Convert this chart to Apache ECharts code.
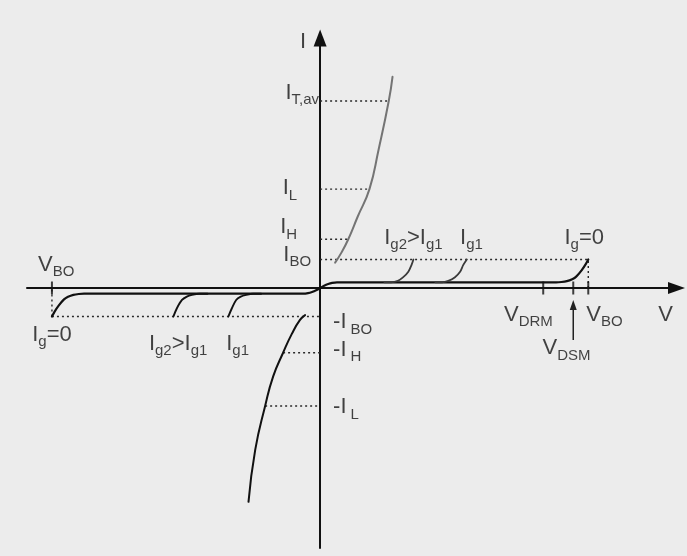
<!DOCTYPE html>
<html>
<head>
<meta charset="utf-8">
<script src="https://cdn.jsdelivr.net/npm/echarts@6/dist/echarts.min.js"></script>
<style>
  html, body { margin: 0; padding: 0; background: #ececec; }
  #chart { width: 687px; height: 556px; }
</style>
</head>
<body>
<div id="chart"></div>
<script>
// Thyristor / triac I-V characteristic, schematic units (V_BO = 100, I_BO = 1)

// Voltage markers on the V axis
const tickNames = ['V_BO', 'V_DRM', 'V_DSM', 'V_BO'];
const tickV = [-100, 83.2, 94.4, 100];

// Current levels on the forward side: I_BO, I_H, I_L, I_T,av
const fwdLevelNames = ['I_BO', 'I_H', 'I_L', 'I_T,av'];
const fwdLevelI = [1, 1.71, 3.47, 6.56];
const fwdLevelReach = [100, 10.5, 18.4, 25.6];
// Current levels on the reverse side: -I_BO, -I_H, -I_L
const revLevelNames = ['-I_BO', '-I_H', '-I_L'];
const revLevelI = [-1, -2.27, -4.14];
const revLevelReach = [-100, -13.8, -20.5];

// Forward blocking branch, Ig = 0
const fwdOffV = [0, 1.5, 3, 4.5, 6.3, 8, 20, 45, 70, 85, 88, 90, 92, 94, 95.5, 97.5, 99, 100];
const fwdOffI = [0, 0.08, 0.14, 0.18, 0.2, 0.2, 0.2, 0.2, 0.2, 0.2, 0.2, 0.21, 0.24, 0.31, 0.4, 0.62, 0.83, 1];
// Reverse blocking branch, Ig = 0
const revOffV = [-100, -99, -97.5, -95.5, -94, -92, -90, -88, -85, -70, -45, -20, -8, -6.3, -4.5, -3, -1.5, 0];
const revOffI = [-1, -0.83, -0.62, -0.4, -0.31, -0.24, -0.21, -0.2, -0.2, -0.2, -0.2, -0.2, -0.2, -0.2, -0.18, -0.14, -0.08, 0];

// Gate-triggered break-over, forward side (Ig2 > Ig1, then Ig1)
const fwdG2V = [24, 26.5, 29, 31, 32.9, 34.1, 34.8];
const fwdG2I = [0.2, 0.2, 0.25, 0.38, 0.57, 0.81, 1];
const fwdG1V = [43, 45.5, 47.8, 50.3, 52.2, 53.4, 54.7];
const fwdG1I = [0.2, 0.2, 0.25, 0.38, 0.57, 0.81, 1];
// Gate-triggered break-over, reverse side
const revG2V = [-54.7, -53.4, -51.5, -49.7, -47.8, -45, -42];
const revG2I = [-1, -0.71, -0.42, -0.3, -0.24, -0.2, -0.2];
const revG1V = [-34.2, -32.9, -31.3, -29.6, -27.6, -25, -22];
const revG1I = [-1, -0.71, -0.42, -0.3, -0.24, -0.2, -0.2];

// On-state (conducting) branches
const fwdOnV = [5.6, 8, 10.5, 14, 18.4, 21.8, 25.6, 27.0];
const fwdOnI = [0.89, 1.25, 1.71, 2.5, 3.47, 4.85, 6.56, 7.41];
const revOnV = [-26.7, -24.2, -20.5, -17.5, -13.8, -10.5, -7.5, -5.6];
const revOnI = [-7.5, -5.68, -4.14, -3.1, -2.27, -1.6, -1.12, -0.95];

// V_DSM pointer (from below the axis up towards the tick)
const dsmArrowI = [-1.82, -0.6];

// ---------------------------------------------------------------
const X_MIN = -109.3, X_MAX = 132.9, Y_MIN = -9.12, Y_MAX = 8.77;
const FONT = '"Liberation Sans", Arial, Helvetica, sans-serif';
const INK = '#151515';

const zip = (xs, ys) => xs.map((x, i) => [x, ys[i]]);
const sub = name => {
  // 'I_T,av' -> main glyph + subscript
  const k = name.indexOf('_');
  if (k < 0) return '{m|' + name + '}';
  const neg = name[0] === '-';
  return '{m|' + name.slice(0, k) + '}{' + (neg ? 'sg' : 's') + '|' + name.slice(k + 1) + '}';
};

function curve(name, xs, ys, color, width, smooth) {
  return {
    name, type: 'line', data: zip(xs, ys), showSymbol: false,
    smooth: smooth || 0.3, silent: true,
    lineStyle: { color, width, cap: 'round', join: 'round' }, z: 3
  };
}
function dotted(name, pts) {
  return {
    name, type: 'line', data: pts, showSymbol: false, silent: true,
    lineStyle: { color: '#2a2a2a', width: 1.4, type: [2, 3] }, z: 2
  };
}

const series = [];

// dotted guide lines to each current level
fwdLevelI.forEach((lv, i) => series.push(dotted(fwdLevelNames[i], [[0, lv], [fwdLevelReach[i], lv]])));
revLevelI.forEach((lv, i) => series.push(dotted(revLevelNames[i], [[revLevelReach[i], lv], [0, lv]])));
// vertical drops from the break-over points
series.push(dotted('fwd drop', [[tickV[3], 0], [tickV[3], fwdLevelI[0]]]));
series.push(dotted('rev drop', [[tickV[0], revLevelI[0]], [tickV[0], 0]]));

// characteristic curves
series.push(curve('forward blocking', fwdOffV, fwdOffI, '#111', 2.2));
series.push(curve('reverse blocking', revOffV, revOffI, '#111', 2.2));
series.push(curve('fwd Ig2', fwdG2V, fwdG2I, '#3a3a3a', 1.8));
series.push(curve('fwd Ig1', fwdG1V, fwdG1I, '#3a3a3a', 1.8));
series.push(curve('rev Ig2', revG2V, revG2I, '#111', 1.9));
series.push(curve('rev Ig1', revG1V, revG1I, '#111', 1.9));
series.push(curve('forward on-state', fwdOnV, fwdOnI, '#747474', 2, 0.5));
series.push(curve('reverse on-state', revOnV, revOnI, '#111', 2, 0.5));

// tick marks on the V axis
series.push({
  name: 'ticks', type: 'scatter', silent: true, z: 4,
  symbol: 'rect', symbolSize: [2, 13],
  itemStyle: { color: '#111' },
  data: tickV.map(v => [v, 0])
});

// V_DSM pointer
series.push({
  name: 'V_DSM pointer', type: 'line', silent: true, z: 4,
  showSymbol: true, showAllSymbol: true,
  lineStyle: { color: '#222', width: 1.5 },
  itemStyle: { color: '#222' },
  data: [
    { value: [tickV[2], dsmArrowI[0]], symbol: 'none' },
    { value: [tickV[2], dsmArrowI[1]], symbol: 'triangle', symbolSize: [7, 10] }
  ]
});

// text annotations, anchored to the values they name
const g2 = '{m|I}{s|g2}{m|>I}{s|g1}';
const g1 = '{m|I}{s|g1}';
const g0 = '{m|I}{s|g}{m|=0}';
const notes = [
  { text: '{m|I}', at: [0, Y_MAX], align: 'center', off: [-17, 4.5] },
  { text: '{m|V}', at: [X_MAX, 0], align: 'center', off: [-11, 27.5] },
  { text: sub(fwdLevelNames[3]), at: [0, fwdLevelI[3]], align: 'right', off: [-1, -7.5] },
  { text: sub(fwdLevelNames[2]), at: [0, fwdLevelI[2]], align: 'right', off: [-23, 0] },
  { text: sub(fwdLevelNames[1]), at: [0, fwdLevelI[1]], align: 'right', off: [-23, -11.3] },
  { text: sub(fwdLevelNames[0]), at: [0, fwdLevelI[0]], align: 'right', off: [-9, -4] },
  { text: sub(revLevelNames[0]), at: [0, revLevelI[0]], align: 'left', off: [13, 6.5] },
  { text: sub(revLevelNames[1]), at: [0, revLevelI[1]], align: 'left', off: [13, -2.2] },
  { text: sub(revLevelNames[2]), at: [0, revLevelI[2]], align: 'left', off: [13, 2] },
  { text: g2, at: [fwdG2V[6], fwdG2I[6]], align: 'center', off: [0, -21] },
  { text: g1, at: [fwdG1V[6], fwdG1I[6]], align: 'center', off: [4.7, -21] },
  { text: g0, at: [tickV[3], fwdLevelI[0]], align: 'center', off: [-4, -21] },
  { text: g2, at: [revG2V[0], revG2I[0]], align: 'center', off: [4.7, 28] },
  { text: g1, at: [revG1V[0], revG1I[0]], align: 'center', off: [9.2, 28] },
  { text: g0, at: [tickV[0], revLevelI[0]], align: 'center', off: [0, 19] },
  { text: sub(tickNames[0]), at: [tickV[0], 0], align: 'center', off: [4.3, -22.5] },
  { text: sub(tickNames[1]), at: [tickV[1], 0], align: 'center', off: [-14.8, 27.5] },
  { text: sub(tickNames[2]), at: [tickV[2], 0], align: 'center', off: [-6.8, 61] },
  { text: sub(tickNames[3]), at: [tickV[3], 0], align: 'center', off: [16.2, 27.5] }
];

const rich = {
  m: { fontSize: 22, lineHeight: 24, fontFamily: FONT, color: INK, verticalAlign: 'top' },
  s: { fontSize: 15, lineHeight: 14, fontFamily: FONT, color: INK, verticalAlign: 'top', padding: [11, 0, 0, 0] },
  sg: { fontSize: 15, lineHeight: 15, fontFamily: FONT, color: INK, verticalAlign: 'top', padding: [11, 0, 0, 4] }
};

series.push({
  name: 'annotations', type: 'scatter', silent: true, clip: false, z: 6,
  symbolSize: 1, itemStyle: { color: 'rgba(0,0,0,0)' },
  label: {
    show: true, position: 'inside', verticalAlign: 'middle',
    color: INK, textBorderWidth: 0, rich
  },
  data: notes.map(n => ({
    value: n.at,
    label: { formatter: n.text, align: n.align, offset: n.off }
  }))
});

const chart = echarts.init(document.getElementById('chart'), null, { renderer: 'canvas' });
chart.setOption({
  backgroundColor: '#ececec',
  animation: false,
  grid: { left: 27, top: 38, width: 649.5, height: 510, containLabel: false },
  xAxis: {
    type: 'value', min: X_MIN, max: X_MAX,
    axisLine: { onZero: true, symbol: ['none', 'triangle'], symbolSize: [12, 17],
      lineStyle: { color: '#111', width: 2 } },
    axisTick: { show: false }, axisLabel: { show: false }, splitLine: { show: false }
  },
  yAxis: {
    type: 'value', min: Y_MIN, max: Y_MAX,
    axisLine: { onZero: true, symbol: ['none', 'triangle'], symbolSize: [13, 17],
      lineStyle: { color: '#111', width: 2 } },
    axisTick: { show: false }, axisLabel: { show: false }, splitLine: { show: false }
  },
  series
});
</script>
</body>
</html>
